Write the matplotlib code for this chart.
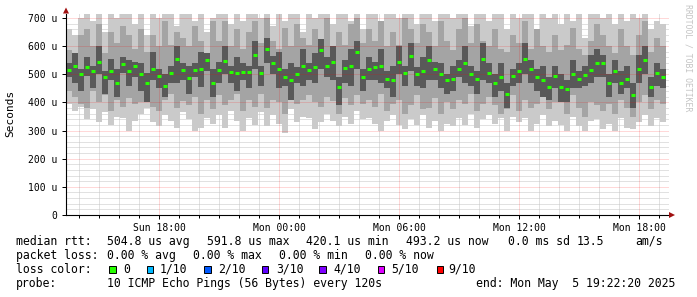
import numpy as np
import matplotlib
matplotlib.use("Agg")
import matplotlib.pyplot as plt
from matplotlib.patches import Polygon, Rectangle
from matplotlib.ticker import MultipleLocator, FixedLocator

# ---------------- data (microseconds) ----------------
start_hour = 13.35        # Sun 13:21 expressed in hours since Sun 00:00
step_hours = 0.3          # one column = 18 minutes

median = [516,528,500,525,510,545,490,512,470,535,510,530,500,470,520,495,460,505,555,515,488,516,520,550,470,
          516,548,508,505,508,508,570,505,590,540,520,490,480,500,530,515,525,585,530,545,455,522,530,580,490,
          520,525,530,485,480,545,505,565,500,510,550,520,500,478,485,520,540,500,482,555,505,470,490,430,495,
          510,555,520,490,480,455,495,455,448,500,485,499,516,540,540,470,512,470,485,428,520,551,455,505,490]

inner_hi = [540,575,520,560,530,600,510,555,520,560,550,545,540,505,580,520,500,530,600,540,530,540,580,575,520,
            545,600,530,560,540,530,620,530,630,565,580,520,540,525,590,540,575,625,560,600,490,550,590,620,520,
            560,545,590,510,530,600,530,610,525,560,600,545,540,500,530,550,600,530,510,610,540,500,540,470,520,
            540,610,550,520,530,490,530,500,480,550,510,530,570,590,570,500,550,510,530,470,570,600,490,540,520]
inner_lo = [490,470,440,495,450,500,430,480,420,505,460,490,440,400,480,450,420,470,470,480,430,490,455,510,420,
            470,500,470,440,480,450,520,460,540,500,450,460,410,470,460,480,470,520,490,480,390,470,460,520,440,
            480,480,470,450,420,500,460,510,460,450,480,480,450,430,440,490,470,460,430,480,470,420,440,380,460,
            470,500,470,440,420,410,450,400,400,450,450,460,470,490,490,420,470,430,450,380,470,500,420,460,450]

mid_hi = [585,570,640,660,600,680,575,650,610,670,640,590,660,580,640,600,690,605,650,630,600,670,620,575,690,
          620,690,600,660,590,650,690,610,700,620,590,665,600,680,630,605,660,620,700,590,650,605,680,700,610,
          660,620,690,600,650,605,700,660,610,680,650,600,690,620,585,660,700,610,680,620,600,660,590,580,640,
          610,690,590,660,600,580,640,585,605,665,590,570,620,680,640,600,575,660,600,570,640,690,580,630,600]
mid_lo = [440,420,395,380,440,400,425,370,410,385,415,395,400,450,385,370,410,430,380,405,390,420,360,410,375,
          425,390,410,430,370,410,385,430,380,410,400,360,430,395,410,425,400,385,420,405,360,415,390,425,395,
          410,385,430,370,395,410,360,390,425,375,380,415,360,400,375,410,395,430,370,395,420,390,360,375,425,
          370,410,380,395,420,375,400,410,360,425,380,350,400,390,370,395,360,410,380,350,400,425,375,410,395]

outer_hi = [660,640,700,716,690,716,650,716,700,716,716,680,716,640,716,700,716,716,670,716,716,690,716,650,700,
            716,716,680,716,690,716,716,700,716,670,716,690,716,716,650,716,700,716,716,680,716,716,690,716,660,
            716,716,690,716,716,700,716,716,680,716,716,690,716,716,700,716,716,670,716,716,690,716,716,660,716,
            700,716,716,650,716,700,716,680,716,690,716,630,716,716,700,716,680,716,690,716,700,716,660,690,680]
outer_lo = [395,370,385,340,375,330,365,320,350,345,300,335,360,380,330,315,355,335,310,365,340,300,310,345,325,
            355,310,370,335,300,345,320,365,315,355,325,290,375,330,350,345,305,330,360,335,315,350,325,370,340,
            345,325,300,335,355,320,305,340,320,355,310,335,300,325,315,345,320,360,310,340,355,325,345,300,350,
            330,345,300,325,355,315,335,320,300,350,315,300,335,340,305,325,300,345,310,305,330,355,315,345,330]

x_tick_hours = [18, 24, 30, 36, 42]
x_tick_labels = ["Sun 18:00", "Mon 00:00", "Mon 06:00", "Mon 12:00", "Mon 18:00"]
y_tick_values = [0, 100, 200, 300, 400, 500, 600, 700]
y_tick_labels = ["0", "100 u", "200 u", "300 u", "400 u", "500 u", "600 u", "700 u"]

loss_labels = ["0", "1/10", "2/10", "3/10", "4/10", "5/10", "9/10"]
loss_colors = ["#26ff00", "#00b8ff", "#0059ff", "#5e00ff", "#7e00ff", "#dd00ff", "#ff0000"]

# ---------------- figure ----------------
W, H = 697, 297
fig = plt.figure(figsize=(W / 100, H / 100), dpi=100)
fig.patch.set_facecolor("white")

def fx(px):
    return px / W

def fy(py):
    return 1 - py / H

ax_left, ax_right, ax_top, ax_bottom = 66, 669, 13.5, 215
ax = fig.add_axes([fx(ax_left), fy(ax_bottom), fx(ax_right - ax_left), (ax_bottom - ax_top) / H])
ax.set_facecolor("white")

n = len(median)
t = start_hour + step_hours * np.arange(n)
edges = np.append(t, t[-1] + step_hours)

def stepped(v):
    v = np.asarray(v, float)
    return np.append(v, v[-1])

ax.fill_between(edges, stepped(outer_lo), stepped(outer_hi), step="post", color="#cacaca", lw=0, zorder=1)
ax.fill_between(edges, stepped(mid_lo), stepped(mid_hi), step="post", color="#a4a4a4", lw=0, zorder=1.1)
ax.fill_between(edges, stepped(inner_lo), stepped(inner_hi), step="post", color="#595959", lw=0, zorder=1.2)
ax.hlines(median, t + 0.06, t + 0.24, colors=loss_colors[0], lw=2.2, zorder=3)

xmax = start_hour + (ax_right - ax_left) / 20.0
ax.set_xlim(start_hour, xmax)
ax.set_ylim(0, 716)

# grid
ax.set_axisbelow(True)
ax.xaxis.set_minor_locator(MultipleLocator(1))
ax.yaxis.set_minor_locator(MultipleLocator(20))
ax.grid(which="minor", color="#c4c4c4", ls=(0, (1, 1)), lw=0.72)
ax.grid(which="major", visible=False)
for xv in x_tick_hours:
    ax.axvline(xv, color="#ff0000", alpha=0.3, ls=(0, (1, 1)), lw=0.72, zorder=2)
for yv in y_tick_values[1:]:
    ax.axhline(yv, color="#ff0000", alpha=0.3, ls=(0, (1, 1)), lw=0.72, zorder=2)

ax.xaxis.set_major_locator(FixedLocator(x_tick_hours))
ax.set_xticklabels(x_tick_labels)
ax.yaxis.set_major_locator(FixedLocator(y_tick_values))
ax.set_yticklabels(y_tick_labels)

mono = "DejaVu Sans Mono"
for lab in ax.get_xticklabels() + ax.get_yticklabels():
    lab.set_fontfamily(mono)
    lab.set_fontsize(7)
    lab.set_color("black")
ax.tick_params(axis="y", which="major", length=3, width=0.72, pad=3.5, direction="out")
ax.tick_params(axis="y", which="minor", length=0)
ax.tick_params(axis="x", which="major", length=3, width=0.72, pad=2.5, direction="out")
ax.tick_params(axis="x", which="minor", length=2, width=0.72, direction="out")

for s in ["top", "right"]:
    ax.spines[s].set_visible(False)
for s in ["left", "bottom"]:
    ax.spines[s].set_linewidth(0.8)
    ax.spines[s].set_color("black")
    ax.spines[s].set_zorder(5)

# axis arrows
arrow_color = "#a01010"
fig.add_artist(Polygon([[fx(63), fy(13.5)], [fx(69), fy(13.5)], [fx(66), fy(7.5)]],
                       closed=True, transform=fig.transFigure, color=arrow_color, lw=0))
fig.add_artist(Polygon([[fx(669), fy(212)], [fx(669), fy(218)], [fx(675), fy(215)]],
                       closed=True, transform=fig.transFigure, color=arrow_color, lw=0))

# labels
fig.text(fx(10.5), fy(113), "Seconds", rotation=90, ha="center", va="center",
         fontsize=8, family=mono)
fig.text(fx(688), fy(4), "RRDTOOL / TOBI OETIKER", rotation=270, ha="center", va="top",
         fontsize=5.9, family=mono, color="#c4c4c4")

fs = 8.3
def put(xpx, base, s):
    fig.text(fx(xpx), fy(base), s, ha="left", va="baseline", fontsize=fs, family=mono)

b1, b2, b3, b4 = 245, 259, 273, 287
put(16, b1, "median rtt:")
put(107, b1, "504.8 us avg")
put(207, b1, "591.8 us max")
put(306.5, b1, "420.1 us min")
put(406, b1, "493.2 us now")
put(507.5, b1, "0.0 ms sd")
put(576.5, b1, "13.5")
put(635, b1, "am/s")

put(16, b2, "packet loss:")
put(107, b2, "0.00 % avg")
put(193, b2, "0.00 % max")
put(279, b2, "0.00 % min")
put(365, b2, "0.00 % now")

put(16, b3, "loss color:")
sq_x = [109, 146.5, 204, 261.5, 319, 377.5, 436.5]
lab_x = [123, 160, 218, 276, 333, 391.5, 448]
for sx, lx, lab, col in zip(sq_x, lab_x, loss_labels, loss_colors):
    fig.add_artist(Rectangle((fx(sx), fy(273)), 6.5 / W, 7 / H, transform=fig.transFigure,
                             facecolor=col, edgecolor="black", lw=0.7))
    put(lx, b3, lab)

put(16, b4, "probe:")
put(107, b4, "10 ICMP Echo Pings (56 Bytes) every 120s")
put(476.5, b4, "end: Mon May  5 19:22:20 2025")

fig.savefig("out.png", dpi=100, facecolor="white")
